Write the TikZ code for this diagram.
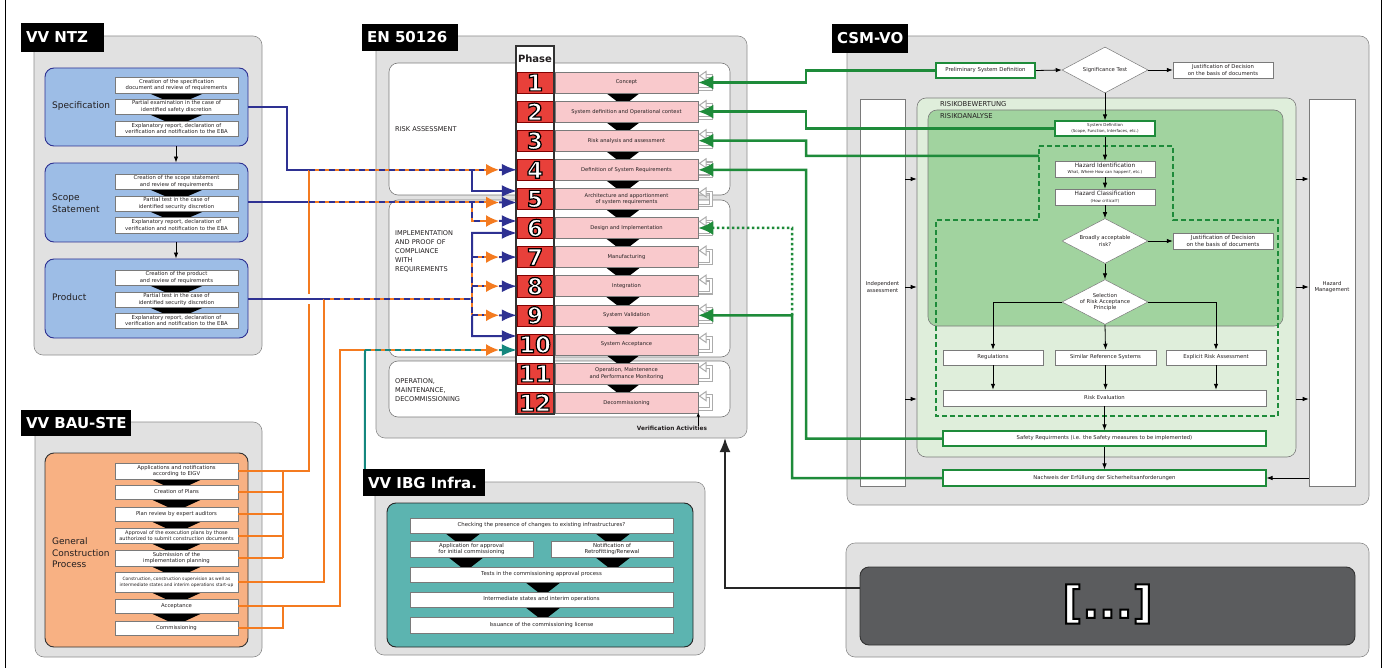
\documentclass[tikz,border=0pt]{standalone}
\usepackage{fontspec}
\setmainfont{DejaVu Sans}
\usetikzlibrary{arrows.meta,calc,fit,shapes.geometric}

\definecolor{panelg}{HTML}{E1E1E1}
\definecolor{panelb}{HTML}{8C8C8C}
\definecolor{navy}{HTML}{2E3192}
\definecolor{orng}{HTML}{F47B20}
\definecolor{bluebx}{HTML}{9DBDE6}
\definecolor{orgbx}{HTML}{F8B183}
\definecolor{redc}{HTML}{E8403A}
\definecolor{pinkc}{HTML}{F9C9CC}
\definecolor{grn}{HTML}{1E8B3A}
\definecolor{grnA}{HTML}{A1D39F}
\definecolor{grnB}{HTML}{DFEEDB}
\definecolor{tealc}{HTML}{14877E}
\definecolor{tealbx}{HTML}{5CB4B0}
\definecolor{darkbx}{HTML}{5B5C5E}
\definecolor{txt}{HTML}{231F20}
\definecolor{boxln}{HTML}{7A7A7A}

\newcommand\fsz[2]{\fontsize{#1}{#2}\selectfont}
% white glyphs with a black outline (fill and stroke render mode)
\newcommand\outlined[2]{\special{pdf:literal direct 2 Tr #1 w 0 G}#2\special{pdf:literal direct 0 Tr}}

\tikzset{
  panel/.style={draw=panelb, fill=panelg, rounded corners=9pt, line width=0.6pt, inner sep=0pt},
  ttl/.style={fill=black, inner sep=0pt},
  ttltxt/.style={text=white, inner sep=0pt, anchor=west, font=\fsz{15}{15}\bfseries},
  wbox/.style={draw=boxln, fill=white, line width=0.5pt, inner sep=0pt, align=center, text=txt, font=\fsz{5.3}{6.3}},
  grpbox/.style={draw=#1, line width=0.9pt, rounded corners=9pt, inner sep=0pt},
  lbl/.style={text=txt, align=left, inner sep=0pt, font=\fsz{9}{11.5}},
  seclbl/.style={text=txt, align=left, inner sep=0pt, font=\fsz{6.6}{9}},
  sectbox/.style={draw=boxln, fill=white, rounded corners=9pt, line width=0.6pt, inner sep=0pt},
  redcell/.style={fill=redc, draw=red!50!black, line width=0.4pt, inner sep=0pt},
  pinkbox/.style={fill=pinkc, draw=boxln, line width=0.5pt, font=\fsz{5.2}{6.4}},
  numf/.style={inner sep=0pt, font=\fsz{23}{23}\bfseries},
  navyln/.style={navy, line width=2pt},
  orln/.style={orng, line width=2pt},
  navytip/.style={-{Latex[length=15pt,width=12pt]}},
  gline/.style={grn, line width=2.5pt, -{Latex[length=15pt,width=14pt]}},
  carr/.style={black, line width=0.8pt, -{Latex[length=6pt,width=4.5pt]}},
  colbox/.style={draw=boxln, fill=white, line width=0.6pt, inner sep=0pt},
  small/.style={text=txt, align=center, inner sep=0pt, font=\fsz{5.3}{6.5}},
  dmd/.style={diamond, draw=boxln, fill=white, line width=0.5pt, inner sep=0pt, align=center,
    text=txt, font=\fsz{5.3}{6.4}, minimum width=86pt, minimum height=46pt, aspect=1.87},
}

% text box given by its corners: [style]{name}{x1}{y1}{x2}{y2}{text}
\newcommand\bx[7][]{\node[wbox,#1,minimum width={(#5)-(#3)},minimum height={(#6)-(#4)}]
  (#2) at ({((#3)+(#5))/2},{((#4)+(#6))/2}) {#7};}
% black title tab: {name}{x1}{y1}{x2}{y2}{text}
\newcommand\tab[6]{\node[ttl, fit={(#2,#3) (#4,#5)}] (#1) {};
  \node[ttltxt] at ($(#1.west)+(5,0)$) {#6};}
% orange line under dashes of a second colour
\newcommand\duo[2]{\draw[orln] #1; \draw[#2, line width=2pt, dash pattern=on 6pt off 4pt] #1;}
% orange head followed by a head of the second colour
\newcommand\heads[3]{%
  \draw[orng, line width=2pt, -{Latex[length=13pt,width=12pt]}] (484,#1) -- (499,#1);
  \draw[#3, line width=2pt, navytip] (499,#1) -- (#2);}
% downward black chevron between two steps
\newcommand\chev[4]{\fill[black] (#1-#3,#2) -- (#1+#3,#2) -- (#1,#2+#4) -- cycle;}

\begin{document}
\begin{tikzpicture}[x=1pt,y=-1pt]
\useasboundingbox (0,0) rectangle (1386,668);
\draw[line width=0.8pt] (5,0) -- (5,668);
\draw[line width=0.8pt] (1381,0) -- (1381,668);

% ================= VV NTZ =================
\node[panel, fit={(34,36) (262,355)}] (ntz) {};
\tab{ntzt}{21}{23}{104}{52}{VV NTZ}
\node[grpbox=navy, fill=bluebx, fit={(45,68) (248,146)}] (spec) {};
\node[grpbox=navy, fill=bluebx, fit={(45,163) (248,242)}] (scope) {};
\node[grpbox=navy, fill=bluebx, fit={(45,259) (248,338)}] (prod) {};
\node[lbl, anchor=west] at (52,106) {Specification};
\node[lbl, anchor=west] at (52,203) {Scope\\Statement};
\node[lbl, anchor=west] at (52,297) {Product};
\draw[carr] ($(spec.south)+(29.5,0)$) -- ($(scope.north)+(29.5,0)$);
\draw[carr] ($(scope.south)+(29.5,0)$) -- ($(prod.north)+(29.5,0)$);
\foreach \y in {93,114,189,211,285,307} {\chev{176.5}{\y}{28}{12}}
\bx{s1}{115}{77}{238}{93}{Creation of the specification\\document and review of requirements}
\bx{s2}{115}{99}{238}{114}{Partial examination in the case of\\identified safety discretion}
\bx{s3}{115}{121}{238}{136}{Explanatory report, declaration of\\verification and notification to the EBA}
\bx{c1}{115}{174}{238}{189}{Creation of the scope statement\\and review of requirements}
\bx{c2}{115}{196}{238}{211}{Partial test in the case of\\identified security discretion}
\bx{c3}{115}{217}{238}{233}{Explanatory report, declaration of\\verification and notification to the EBA}
\bx{r1}{115}{270}{238}{285}{Creation of the product\\and review of requirements}
\bx{r2}{115}{292}{238}{307}{Partial test in the case of\\identified security discretion}
\bx{r3}{115}{313}{238}{328}{Explanatory report, declaration of\\verification and notification to the EBA}

% ================= VV BAU-STE =================
\node[panel, fit={(35,422) (262,657)}] (bau) {};
\tab{baut}{21}{410}{131}{436}{VV BAU-STE}
\node[grpbox=black!80, fill=orgbx, fit={(45,453) (248,647)}] (gcp) {};
\node[lbl, anchor=west] at (52,553) {General\\Construction\\Process};
\foreach \y in {479,499,521,543,566,592,613} {\chev{176.5}{\y}{26}{12}}
\bx{b1}{115}{463}{238}{479}{Applications and notifications\\according to EIGV}
\bx{b2}{115}{485}{238}{499}{Creation of Plans}
\bx{b3}{115}{507}{238}{521}{Plan review by expert auditors}
\bx[font=\fsz{5}{6}]{b4}{115}{528}{238}{543}{Approval of the execution plans by those\\authorized to submit construction documents}
\bx{b5}{115}{550}{238}{566}{Submission of the\\implementation planning}
\bx[font=\fsz{4.4}{6}]{b6}{115}{572}{238}{592}{Construction, construction supervision as well as\\intermediate states and interim operations start-up}
\bx{b7}{115}{599}{238}{613}{Acceptance}
\bx{b8}{115}{621}{238}{635}{Commissioning}

% ================= EN 50126 =================
\node[panel, fit={(376,36) (747,438)}] (enp) {};
\tab{ent}{362}{24}{458}{51}{EN 50126}
\node[sectbox, fit={(389,63) (730,195)}] (ra) {};
\node[sectbox, fit={(389,200) (730,357)}] (imp) {};
\node[sectbox, fit={(389,361) (730,417)}] (op) {};
\node[seclbl, anchor=west] at (395,129) {RISK ASSESSMENT};
\node[seclbl, anchor=north west] at (395,230.6) {IMPLEMENTATION\\AND PROOF OF\\COMPLIANCE\\WITH\\REQUIREMENTS};
\node[seclbl, anchor=north west] at (395,378.6) {OPERATION,\\MAINTENANCE,\\DECOMMISSIONING};

% phase column
\node[fill=white, draw=black!80, line width=1.3pt, inner sep=0pt, fit={(516,46) (554,414)}] (phcol) {};
\node[inner sep=0pt, font=\fsz{10}{10}\bfseries, text=txt] (phase) at (535,59) {Phase};
\foreach \i in {1,...,11} {
  \pgfmathsetmacro\tp{72+29.1*(\i-1)+21}
  \chev{623}{\tp}{17}{13}
}
\foreach \i/\txt in {1/Concept, 2/System definition and Operational context,
    3/Risk analysis and assessment, 4/Definition of System Requirements,
    5/{Architecture and apportionment\\of system requirements}, 6/Design and Implementation,
    7/Manufacturing, 8/Integration, 9/System Validation, 10/System Acceptance,
    11/{Operation, Maintenence\\and Performance Monitoring}, 12/Decommissioning} {
  \pgfmathsetmacro\tp{72+29.1*(\i-1)}
  \node[redcell, fit={(517,\tp) (553,\tp+21)}] (n\i) {};
  \bx[pinkbox]{p\i}{555}{\tp}{698}{\tp+21}{\txt}
  % verification loop
  \draw[draw=gray!65, double=white, double distance=1.4pt, line width=1.1pt]
    (698.5,\tp+17) -- (711,\tp+17) -- (711,\tp+4) -- (706,\tp+4);
  \filldraw[draw=gray!65, fill=white, line width=1pt] (699.5,\tp+4) -- (706,\tp-0.5) -- (706,\tp+8.5) -- cycle;
}
\draw[black!80, line width=1.3pt] (516,46) rectangle (554,414);
\foreach \i in {1,...,12}
  \node[numf, text=white] (d\i) at (n\i.center) {\outlined{1.2}{\i}};
\node[inner sep=0pt, font=\fsz{5.8}{7}\bfseries, text=txt] (va) at (672,428) {Verification Activities};
\draw[black, line width=0.7pt, -{Latex[length=4pt,width=3.5pt]}] ($(va.north east)+(-9,0)$) -- ++(0,-13);

% ================= VV IBG Infra. =================
\node[panel, fit={(375,482) (705,655)}] (ibg) {};
\tab{ibgt}{363}{469}{485}{496}{VV IBG Infra.}
\node[grpbox=black!85, fill=tealbx, fit={(387,503) (693,647)}] (ibgb) {};
\chev{463}{533}{18}{14} \chev{613}{533}{18}{14}
\chev{466}{557}{18}{14} \chev{613}{557}{18}{14}
\chev{543}{582}{18}{14} \chev{543}{607}{18}{14}
\bx[font=\fsz{5.4}{6.4}]{i1}{410}{518}{673}{533}{Checking the presence of changes to existing infrastructures?}
\bx[font=\fsz{5.4}{6.4}]{i2}{410}{541}{533}{557}{Application for approval\\for initial commissioning}
\bx[font=\fsz{5.4}{6.4}]{i3}{551}{541}{673}{557}{Notification of\\Retrofitting/Renewal}
\bx[font=\fsz{5.4}{6.4}]{i4}{410}{567}{673}{582}{Tests in the commissioning approval process}
\bx[font=\fsz{5.4}{6.4}]{i5}{410}{592}{673}{607}{Intermediate states and interim operations}
\bx[font=\fsz{5.4}{6.4}]{i6}{410}{617}{673}{633}{Issuance of the commissioning license}

% ================= CSM-VO =================
\node[panel, fit={(847,36) (1369,505)}] (csm) {};
\tab{csmt}{832}{24}{908}{53}{CSM-VO}
\node[colbox, fit={(860,99) (905,486)}] (indep) {};
\node[colbox, fit={(1309,99) (1355,486)}] (hazm) {};
\node[small] at (882.5,287) {Independent\\assessment};
\node[small] at (1332,287) {Hazard\\Management};
\node[draw=boxln, fill=grnB, line width=0.6pt, rounded corners=9pt, inner sep=0pt, fit={(917,98) (1296,457)}] (bew) {};
\node[draw=boxln, fill=grnA, line width=0.6pt, rounded corners=9pt, inner sep=0pt, fit={(928,110) (1283,326)}] (ana) {};
\node[seclbl, font=\fsz{6.8}{8}, anchor=west] at (940,104) {RISIKOBEWERTUNG};
\node[seclbl, font=\fsz{6.8}{8}, anchor=west] at (940,116.5) {RISIKOANALYSE};
\draw[grn, line width=1.8pt, dash pattern=on 5pt off 3pt]
  (1039,146) -- (1173,146) -- (1173,220) -- (1278,220) -- (1278,416) -- (936,416) -- (936,220) -- (1039,220) -- cycle;
\coordinate (hzin) at (1039,156);
\foreach \y in {179,287,399} {
  \draw[carr] (indep.east |- 0,\y) -- (bew.west |- 0,\y);
  \draw[carr] (bew.east |- 0,\y) -- (hazm.west |- 0,\y);
}
\bx[draw=grn, line width=1.8pt, font=\fsz{5.4}{6.4}]{prelim}{936}{63}{1035}{78}{Preliminary System Definition}
\node[dmd] (sig) at (1105,70) {Significance Test};
\bx{just1}{1173}{62}{1273}{78}{Justification of Decision\\on the basis of documents}
\bx[draw=grn, line width=1.2pt, font=\fsz{4}{5.6}]{sysdef}{1055}{121}{1155}{136}{System Definition\\(Scope, Function, Interfaces, etc.)}
\bx{hzid}{1055}{161}{1155}{177}{{\fsz{5.8}{6.6}Hazard Identification}\\{\fsz{4}{5}What, Where How can happen?, etc.)}}
\bx{hzcl}{1055}{189}{1155}{205}{{\fsz{5.8}{6.6}Hazard Classification}\\{\fsz{4}{5}(How critical?)}}
\node[dmd, minimum height=45pt] (broad) at (1105,241) {Broadly acceptable\\risk?};
\bx[font=\fsz{5.5}{6.6}]{just2}{1173}{233}{1273}{249}{Justification of Decision\\on the basis of documents}
\node[dmd, minimum height=44pt] (sel) at (1105,302) {Selection\\of Risk Acceptance\\Principle};
\bx{regs}{943}{350}{1043}{365}{Regulations}
\bx{simr}{1055}{350}{1156}{365}{Similar Reference Systems}
\bx{expl}{1166}{350}{1266}{365}{Explicit Risk Assessment}
\bx{reval}{943}{390}{1266}{406}{Risk Evaluation}
\bx[draw=grn, line width=1.1pt]{safety}{943}{431}{1266}{446}{Safety Requirments (i.e. the Safety measures to be implemented)}
\bx[draw=grn, line width=1.1pt]{nachw}{943}{470}{1266}{486}{Nachweis der Erfüllung der Sicherheitsanforderungen}
\draw[carr] (prelim.east) -- (sig.west);
\draw[carr] (sig.east) -- (just1.west);
\draw[carr] (sig.south) -- (sysdef.north);
\draw[carr] (sysdef.south) -- (hzid.north);
\draw[carr] (hzid.south) -- (hzcl.north);
\draw[carr] (hzcl.south) -- (broad.north);
\draw[carr] (broad.east) -- (just2.west);
\draw[carr] (broad.south) -- (sel.north);
\draw[carr] (sel.south) -- (simr.north);
\draw[carr] (sel.west) -| (regs.north);
\draw[carr] (sel.east) -| (expl.north);
\draw[carr] (regs.south) -- (regs.south |- reval.north);
\draw[carr] (simr.south) -- (simr.south |- reval.north);
\draw[carr] (expl.south) -- (expl.south |- reval.north);
\draw[carr] (reval.south) -- (safety.north);
\draw[carr] (safety.south) -- (nachw.north);
\draw[carr, {Latex[length=6pt,width=4.5pt]}-] (nachw.east) -- (nachw.east -| hazm.west);

% ================= further regulations =================
\node[panel, fit={(846,543) (1369,657)}] (more) {};
\node[grpbox=black!80, fill=darkbx, fit={(860,567) (1355,645)}] (dark) {};
\node[inner sep=0pt, font=\fsz{44}{44}\bfseries, text=white] (dots) at ($(dark.center)+(0,-2)$) {\outlined{2}{[...]}};
\draw[black!85, line width=1.8pt, -{Latex[length=14pt,width=11pt]}] ($(dark.west)+(0,-18)$) -| (725,438);

% ================= connectors from VV NTZ =================
\draw[navyln] (spec.east) -| (287,169.8) -- (309,169.8);
\draw[navyln] (scope.east) -- (309,202.5);
\draw[navyln] (prod.east) -- (324,298.5);

% ================= connectors from VV BAU-STE =================
\draw[orln] (b1.east) -- (309,471) -- (309,303.5);
\draw[orln] (309,293.5) -- (309,169.8);
\foreach \b in {b2,b3,b4,b5} \draw[orln] (\b.east) -- (\b.east -| 283,0);
\draw[orln] (283,471) -- (283,558);
\draw[orln] (b6.east) -| (324,298.5);
\draw[orln] (b7.east) -| (340,350) -- (365,350);
\draw[orln] (b8.east) -| (283,606);
\draw[tealc, line width=2pt] (365,350) -- ($(ibgt.north west)+(2,0)$);

% joint lines into the phases
\duo{(309,169.8) -- (486,169.8)}{navy}
\heads{169.8}{n4.west}{navy}
\draw[navyln, navytip] (472,169.8) |- ($(n5.west)+(0,-7.9)$);
\duo{(309,202.5) -- (486,202.5)}{navy}
\heads{202.5}{$(n5.west)+(0,3.6)$}{navy}
\duo{(472,202.5) |- (486,221)}{navy}
\heads{221}{$(n6.west)+(0,-7)$}{navy}
\duo{(324,298.5) -- (472,298.5)}{navy}
\duo{(472,257.1) -- (472,315.3)}{navy}
\draw[navyln, navytip] (472,257.1) -- (472,233) -- ($(n6.west)+(0,5)$);
\draw[navyln, navytip] (472,315.3) -- (472,336) -- ($(n10.west)+(0,-8.4)$);
\duo{(472,257.1) -- (486,257.1)}{navy}
\heads{257.1}{n7.west}{navy}
\duo{(472,286.2) -- (486,286.2)}{navy}
\heads{286.2}{n8.west}{navy}
\duo{(472,315.3) -- (486,315.3)}{navy}
\heads{315.3}{n9.west}{navy}
\duo{(365,350) -- (486,350)}{tealc}
\heads{350}{$(n10.west)+(0,5.6)$}{tealc}

% ================= connectors from CSM-VO =================
\draw[gline] (prelim.west) -| (806,82.5) -- (p1.east);
\draw[gline] (sysdef.west) -| (806,111.6) -- (p2.east);
\draw[gline] (hzin) -| (806,140.7) -- (p3.east);
\draw[gline] (safety.west) -| (806,169.8) -- (p4.east);
\draw[gline] (nachw.west) -| (792,315.3) -- (p9.east);
\draw[gline, dash pattern=on 2.5pt off 2.5pt] (792,315.3) -- (792,228) -- (p6.east);
\end{tikzpicture}
\end{document}
